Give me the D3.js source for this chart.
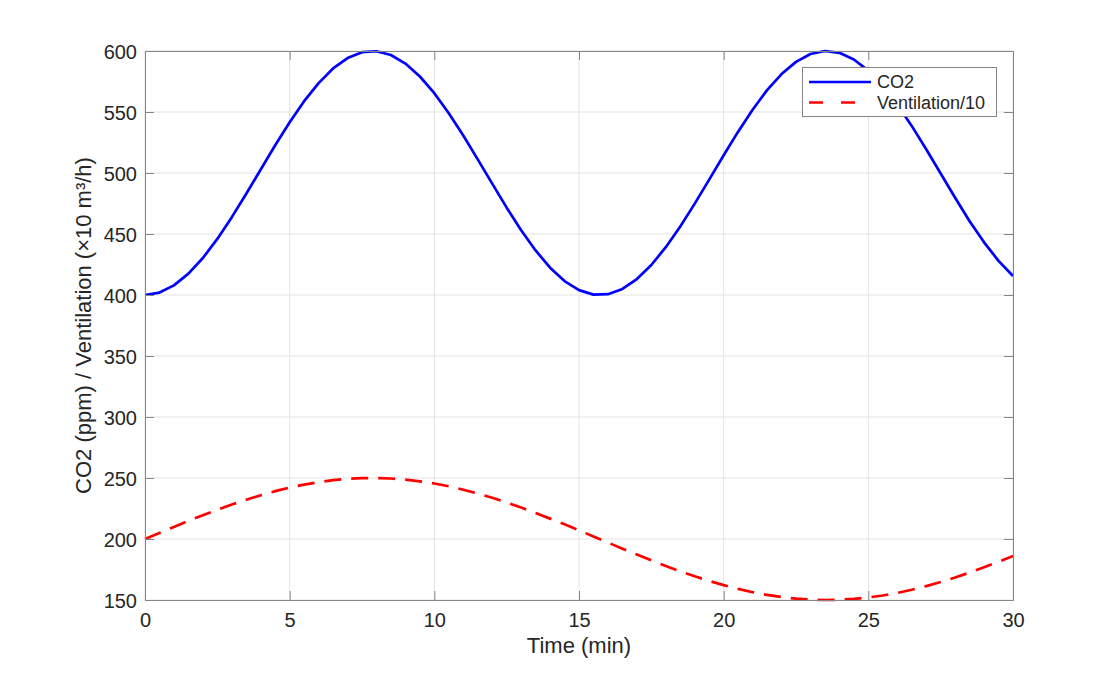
<!DOCTYPE html>
<html>
<head>
<meta charset="utf-8">
<script src="https://cdn.jsdelivr.net/npm/d3@7/dist/d3.min.js"></script>
<style>
  html, body { margin: 0; padding: 0; background: #ffffff; }
  svg { display: block; font-family: "Liberation Sans", Arial, Helvetica, sans-serif; }
</style>
</head>
<body>
<svg id="chart" width="1119" height="674"></svg>
<script>
// ---- Data ----
const timeMin = [0,0.5,1,1.5,2,2.5,3,3.5,4,4.5,5,5.5,6,6.5,7,7.5,8,8.5,9,9.5,10,10.5,11,11.5,12,12.5,13,13.5,14,14.5,15,15.5,16,16.5,17,17.5,18,18.5,19,19.5,20,20.5,21,21.5,22,22.5,23,23.5,24,24.5,25,25.5,26,26.5,27,27.5,28,28.5,29,29.5,30];
const co2 = [400.0,402.0,407.9,417.5,430.3,446.0,463.8,483.0,502.9,522.7,541.6,558.9,573.7,585.7,594.2,599.0,599.8,596.7,589.7,579.1,565.4,549.0,530.7,511.2,491.3,471.6,453.1,436.5,422.4,411.4,404.0,400.3,400.7,405.0,413.1,424.6,439.2,456.1,474.9,494.6,514.6,533.9,551.9,567.9,581.1,591.1,597.5,600.0,598.5,593.0,583.9,571.4,556.1,538.6,519.4,499.6,479.7,460.5,443.2,428.0,415.6];
const ventilation10 = [200.0,205.0,209.9,214.8,219.5,224.0,228.2,232.2,235.9,239.2,242.1,244.6,246.6,248.2,249.3,249.9,250.0,249.6,248.7,247.3,245.5,243.2,240.4,237.3,233.8,229.9,225.8,221.4,216.7,212.0,207.1,202.1,197.1,192.1,187.2,182.5,177.9,173.5,169.4,165.6,162.2,159.1,156.4,154.2,152.4,151.1,150.3,150.0,150.2,150.9,152.1,153.7,155.8,158.4,161.4,164.7,168.4,172.5,176.8,181.3,186.0];
const xTicks = [0,5,10,15,20,25,30];
const yTicks = [150,200,250,300,350,400,450,500,550,600];
const seriesNames = ["CO2", "Ventilation/10"];
const xLabel = "Time (min)";
const yLabel = "CO2 (ppm) / Ventilation (×10 m³/h)";

// ---- Layout ----
const svg = d3.select("#chart");
const L = 145, R = 1013, T = 51, B = 600;
const x = d3.scaleLinear().domain([0, 30]).range([L, R]);
const y = d3.scaleLinear().domain([150, 600]).range([B, T]);
const axisColor = "#858585";
const textColor = "#262626";
const gridColor = "#e3e3e3";
const tickLen = 9;

// grid
const g = svg.append("g");
g.selectAll(".vg").data(xTicks).join("line")
  .attr("x1", d => x(d)).attr("x2", d => x(d)).attr("y1", T).attr("y2", B)
  .attr("stroke", gridColor).attr("stroke-width", 1);
g.selectAll(".hg").data(yTicks).join("line")
  .attr("x1", L).attr("x2", R).attr("y1", d => y(d)).attr("y2", d => y(d))
  .attr("stroke", gridColor).attr("stroke-width", 1);

// lines
const line = d3.line().x((d, i) => x(timeMin[i])).y(d => y(d));
svg.append("path").datum(co2)
  .attr("d", line).attr("fill", "none")
  .attr("stroke", "#0000ff").attr("stroke-width", 2.7)
  .attr("stroke-linejoin", "round");
svg.append("path").datum(ventilation10)
  .attr("d", line).attr("fill", "none")
  .attr("stroke", "#ff0000").attr("stroke-width", 2.7)
  .attr("stroke-dasharray", "17,10");

// axes using d3 axis generators (inward ticks)
function styleAxis(sel) {
  sel.select(".domain").attr("stroke", axisColor).attr("stroke-width", 1);
  sel.selectAll(".tick line").attr("stroke", axisColor).attr("stroke-width", 1);
  sel.selectAll(".tick text").attr("fill", textColor).attr("font-size", 20)
     .attr("font-family", "'Liberation Sans', Arial, sans-serif");
}
const xAxisB = svg.append("g").attr("transform", `translate(0,${B})`)
  .call(d3.axisBottom(x).tickValues(xTicks).tickSize(-tickLen).tickSizeOuter(0).tickPadding(0).tickFormat(d3.format("d")));
styleAxis(xAxisB);
xAxisB.selectAll(".tick text").attr("y", 27).attr("dy", 0);

const xAxisT = svg.append("g").attr("transform", `translate(0,${T})`)
  .call(d3.axisTop(x).tickValues(xTicks).tickSize(-tickLen).tickSizeOuter(0).tickFormat(""));
styleAxis(xAxisT);

const yAxisL = svg.append("g").attr("transform", `translate(${L},0)`)
  .call(d3.axisLeft(y).tickValues(yTicks).tickSize(-tickLen).tickSizeOuter(0).tickPadding(0).tickFormat(d3.format("d")));
styleAxis(yAxisL);
yAxisL.selectAll(".tick text").attr("x", -8).attr("dy", "0.35em");

const yAxisR = svg.append("g").attr("transform", `translate(${R},0)`)
  .call(d3.axisRight(y).tickValues(yTicks).tickSize(-tickLen).tickSizeOuter(0).tickFormat(""));
styleAxis(yAxisR);

// axis labels
svg.append("text").attr("x", (L + R) / 2).attr("y", 653)
  .attr("text-anchor", "middle").attr("font-size", 22).attr("fill", textColor)
  .text(xLabel);
svg.append("text")
  .attr("transform", `translate(91,${(T + B) / 2}) rotate(-90)`)
  .attr("text-anchor", "middle").attr("font-size", 22).attr("fill", textColor)
  .text(yLabel);

// legend
const lg = svg.append("g");
lg.append("rect").attr("x", 802.5).attr("y", 67.5).attr("width", 194).attr("height", 49)
  .attr("fill", "#ffffff").attr("stroke", axisColor).attr("stroke-width", 1);
const legendY = [82, 102.5];
const legendStyles = [{c: "#0000ff", dash: null}, {c: "#ff0000", dash: "14,18"}];
seriesNames.forEach((name, i) => {
  lg.append("line").attr("x1", 809).attr("x2", 871).attr("y1", legendY[i]).attr("y2", legendY[i])
    .attr("stroke", legendStyles[i].c).attr("stroke-width", 2.7)
    .attr("stroke-dasharray", legendStyles[i].dash);
  lg.append("text").attr("x", 877).attr("y", legendY[i]).attr("dy", "0.35em")
    .attr("font-size", 18).attr("fill", textColor).text(name);
});
</script>
</body>
</html>
